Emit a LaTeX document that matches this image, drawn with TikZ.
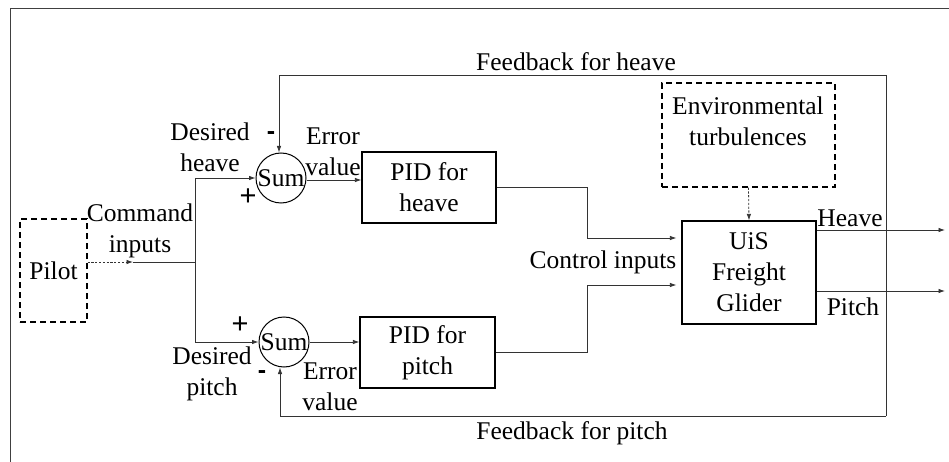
\documentclass[tikz,border=0pt]{standalone}
\usepackage{fontspec}
\setmainfont{Liberation Serif}
\setsansfont{Liberation Sans}
\usetikzlibrary{arrows.meta,calc}
\begin{document}
\begin{tikzpicture}[x=1pt,y=-1pt,
  every node/.style={font=\fontsize{25.5}{31}\selectfont, inner sep=0pt, align=center},
  blk/.style={draw=black, line width=1.2pt, rectangle},
  dblk/.style={draw=black, line width=1.2pt, rectangle, dash pattern=on 6pt off 4pt},
  sumnode/.style={draw=black, line width=1pt, circle, minimum size=50pt, inner sep=0pt},
  conn/.style={draw=black!80, line width=0.8pt},
  arr/.style={conn, -{Latex[length=6.5pt,width=4.5pt]}},
  darr/.style={arr, dash pattern=on 2.2pt off 1.6pt},
  sgnm/.style={font=\fontsize{25}{31}\selectfont\bfseries\sffamily},
  sgnp/.style={font=\fontsize{29}{31}\selectfont\sffamily},
]
\useasboundingbox (0,0) rectangle (949,462);
% frame
\draw[black!75, line width=0.9pt] (10,462) -- (10,8) -- (949,8);

% blocks
\node[dblk, minimum width=67pt, minimum height=103pt] (pilot) at (53.5,270.5) {Pilot};
\node[sumnode] (sum1) at (281,178) {Sum};
\node[sumnode] (sum2) at (284,342) {Sum};
\node[blk, minimum width=134pt, minimum height=71pt] (pidh) at (429,187.5) {PID for\\heave};
\node[blk, minimum width=135pt, minimum height=71pt] (pidp) at (427.5,352.5) {PID for\\pitch};
\node[blk, minimum width=134pt, minimum height=103pt] (glider) at (749,272.5) {UiS\\Freight\\Glider};
\node[dblk, minimum width=173pt, minimum height=104pt] (env) at (748.5,135) {};
\node (envtext) at (748,121) {Environmental\\turbulences};

% coordinates
\coordinate (cmd) at (133,262);
\coordinate (junc) at (195,262);
\coordinate (fbtr) at (886,75);
\coordinate (fbbr) at (886,416);
\coordinate (hend) at (945,230);
\coordinate (pend) at (945,291);

% connectors
\draw[darr] (pilot.east |- cmd) -- (cmd);
\draw[conn] (cmd) -- (junc);
\draw[arr] (junc) |- (sum1.west);
\draw[arr] (junc) |- (sum2.west);
\draw[arr] ([yshift=-2pt]sum1.east) -- ([yshift=-2pt]sum1.east -| pidh.west);
\draw[arr] (sum2.east) -- (sum2.east -| pidp.west);
\draw[arr] (pidh.east) -- ++(91,0) |- ([yshift=34.5pt,xshift=-5pt]glider.west);
\draw[arr] (pidp.east) -- ++(92,0) |- ([yshift=-12.5pt,xshift=-5pt]glider.west);
\draw[darr] (env.south) -- (glider.north);
\draw[arr] ([yshift=42.5pt]glider.east) -- (hend);
\draw[arr] ([yshift=-18.5pt]glider.east) -- (pend);
\draw[arr] (fbtr) -- ([xshift=-2pt]sum1.north |- fbtr) -- ([xshift=-2pt]sum1.north);
\draw[conn] (fbtr) -- (fbbr);
\draw[arr] (fbbr) -- ([xshift=-4pt]sum2.south |- fbbr) -- ([xshift=-4pt]sum2.south);

% labels
\node (lfbh) at (576,62) {Feedback for heave};
\node (lfbp) at (572,433) {Feedback for pitch};
\node (lcmd) at (140,231) {Command\\inputs};
\node (ldh) at (210,147.5) {Desired\\heave};
\node (ldp) at (212,374) {Desired\\pitch};
\node (leh) at (333,152) {Error\\value};
\node (lep) at (330,387) {Error\\value};
\node (lci) at (603,262) {Control inputs};
\node (lhv) at (850,218) {Heave};
\node (lpt) at (853,307) {Pitch};
\node[sgnm] (m1) at (271,136) {-};
\node[sgnp] (p1) at (248,197) {+};
\node[sgnp] (p2) at (240,325) {+};
\node[sgnm] (m2) at (262,375) {-};
\end{tikzpicture}
\end{document}
